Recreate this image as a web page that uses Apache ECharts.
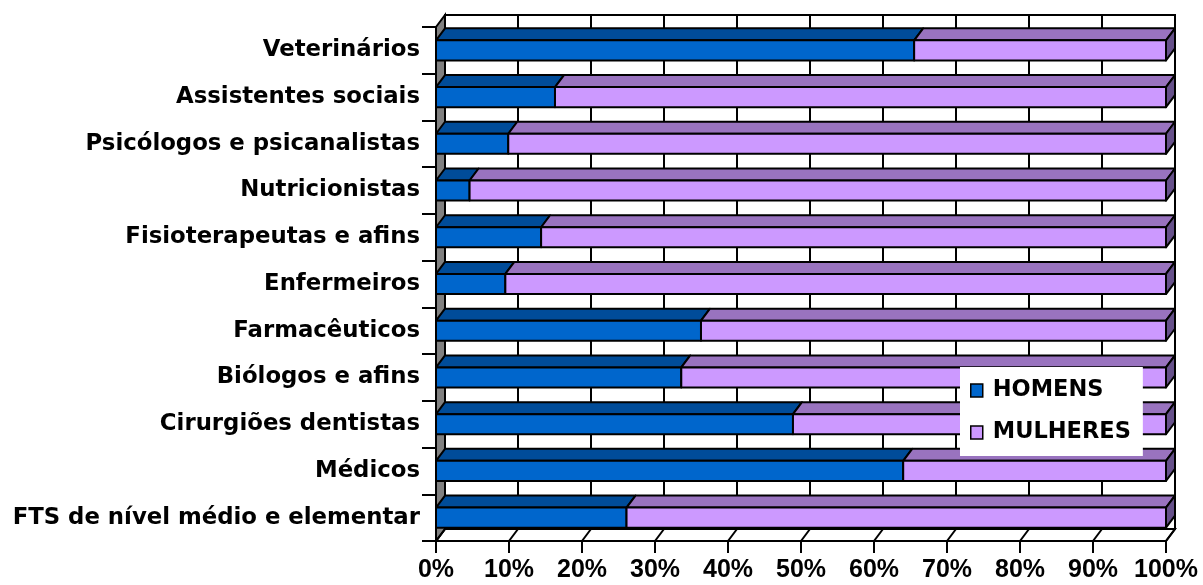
<!DOCTYPE html>
<html>
<head>
<meta charset="utf-8">
<script src="https://cdn.jsdelivr.net/npm/echarts@6/dist/echarts.min.js"></script>
<style>
  html, body { margin: 0; padding: 0; background: #fff; }
</style>
</head>
<body>
<!-- chart container -->
<div id="main" style="width: 1203px;height: 585px;"></div>
<script>
// categories, top to bottom
var categories = ['Veterinários', 'Assistentes sociais', 'Psicólogos e psicanalistas', 'Nutricionistas',
  'Fisioterapeutas e afins', 'Enfermeiros', 'Farmacêuticos', 'Biólogos e afins',
  'Cirurgiões dentistas', 'Médicos', 'FTS de nível médio e elementar']
// percentages
var homens = [65.5, 16.3, 9.9, 4.6, 14.4, 9.5, 36.3, 33.6, 48.9, 64.0, 26.1]
var mulheres = [34.5, 83.7, 90.1, 95.4, 85.6, 90.5, 63.7, 66.4, 51.1, 36.0, 73.9]
var xTicks = [0, 10, 20, 30, 40, 50, 60, 70, 80, 90, 100]

// depth of the fake 3d
var DX = 9
var DY = -12

var myChart = echarts.init(document.getElementById('main'))

function wallsItem(params, api) {
  var cs = params.coordSys
  var x = api.coord([api.value(0), 0])[0]
  var top = cs.y
  var bot = cs.y + cs.height
  var x1 = cs.x + cs.width
  var ln = { stroke: '#000', lineWidth: 2 }
  var children = []
  if (params.dataIndex === 0) {
    // back wall, floor, left wall
    children.push({ type: 'rect', z2: 0, shape: { x: cs.x + DX, y: top + DY, width: cs.width, height: cs.height },
      style: { fill: '#fff', stroke: '#000', lineWidth: 2 } })
    children.push({ type: 'polygon', z2: 0, shape: { points: [[cs.x, bot], [x1, bot], [x1 + DX, bot + DY], [cs.x + DX, bot + DY]] },
      style: { fill: '#fff', stroke: '#000', lineWidth: 2 } })
    children.push({ type: 'polygon', z2: 1, shape: { points: [[cs.x, top], [cs.x + DX, top + DY], [cs.x + DX, bot + DY], [cs.x, bot]] },
      style: { fill: '#808080', stroke: '#000', lineWidth: 2 } })
  }
  if (params.dataIndex > 0) {
    children.push({ type: 'line', z2: 2, shape: { x1: x + DX, y1: top + DY, x2: x + DX, y2: bot + DY }, style: ln })
  }
  children.push({ type: 'line', z2: 2, shape: { x1: x, y1: bot, x2: x + DX, y2: bot + DY }, style: ln })
  return { type: 'group', children: children }
}

function barItem(front, topColor, sideColor) {
  return function(params, api) {
    var s = api.coord([api.value(0), api.value(2)])
    var e = api.coord([api.value(1), api.value(2)])
    var h = api.size([0, 1])[1] * 0.43
    var y0 = s[1] - h / 2
    var y1 = s[1] + h / 2
    var st = { stroke: '#000', lineWidth: 2, lineJoin: 'round' }
    var children = [
      { type: 'polygon', shape: { points: [[s[0], y0], [e[0], y0], [e[0] + DX, y0 + DY], [s[0] + DX, y0 + DY]] },
        style: Object.assign({ fill: topColor }, st) },
      { type: 'rect', shape: { x: s[0], y: y0, width: e[0] - s[0], height: h },
        style: Object.assign({ fill: front }, st) }
    ]
    if (sideColor) {
      children.push({ type: 'polygon', shape: { points: [[e[0], y0], [e[0] + DX, y0 + DY], [e[0] + DX, y1 + DY], [e[0], y1]] },
        style: Object.assign({ fill: sideColor }, st) })
    }
    return { type: 'group', children: children }
  }
}

var homensData = homens.map(function(v, i) { return [0, v, i] })
var mulheresData = mulheres.map(function(v, i) { return [homens[i], homens[i] + v, i] })

var option = {
  animation: false,
  grid: { left: 436, right: 37, top: 27, bottom: 44, containLabel: false },
  legend: {
    orient: 'vertical',
    left: 960,
    top: 367,
    backgroundColor: '#fff',
    padding: [12, 12, 12, 10],
    itemWidth: 12,
    itemHeight: 13,
    itemGap: 19,
    selectedMode: false,
    textStyle: { fontFamily: 'DejaVu Sans', fontWeight: 'bold', fontSize: 22.5, color: '#000', padding: [0, 0, 0, 5] },
    data: [
      { name: 'HOMENS', icon: 'rect', itemStyle: { color: '#0066CC', borderColor: '#000', borderWidth: 1.5 } },
      { name: 'MULHERES', icon: 'rect', itemStyle: { color: '#CC99FF', borderColor: '#000', borderWidth: 1.5 } }
    ]
  },
  xAxis: {
    type: 'value',
    min: 0,
    max: 100,
    interval: 10,
    axisLine: { show: true, lineStyle: { color: '#000', width: 2 } },
    axisTick: { show: true, length: 12, lineStyle: { color: '#000', width: 2 } },
    splitLine: { show: false },
    axisLabel: {
      formatter: '{value}%',
      margin: 17,
      color: '#000',
      fontFamily: 'Liberation Sans',
      fontWeight: 'bold',
      fontSize: 25
    }
  },
  yAxis: {
    type: 'category',
    inverse: true,
    data: categories,
    axisLine: { show: true, lineStyle: { color: '#000', width: 2 } },
    axisTick: { show: true, length: 14, lineStyle: { color: '#000', width: 2 } },
    axisLabel: {
      margin: 16,
      color: '#000',
      fontFamily: 'DejaVu Sans',
      fontWeight: 'bold',
      fontSize: 22.8
    }
  },
  series: [
    {
      name: 'walls',
      type: 'custom',
      z: 1,
      silent: true,
      renderItem: wallsItem,
      encode: { x: 0 },
      data: xTicks.map(function(t) { return [t] })
    },
    {
      name: 'HOMENS',
      type: 'custom',
      z: 3,
      itemStyle: { color: '#0066CC' },
      renderItem: barItem('#0066CC', '#004C99', null),
      encode: { x: [0, 1], y: 2 },
      data: homensData
    },
    {
      name: 'MULHERES',
      type: 'custom',
      z: 3,
      itemStyle: { color: '#CC99FF' },
      renderItem: barItem('#CC99FF', '#9973BF', '#66508A'),
      encode: { x: [0, 1], y: 2 },
      data: mulheresData
    }
  ]
}
myChart.setOption(option)
</script>
</body>
</html>
